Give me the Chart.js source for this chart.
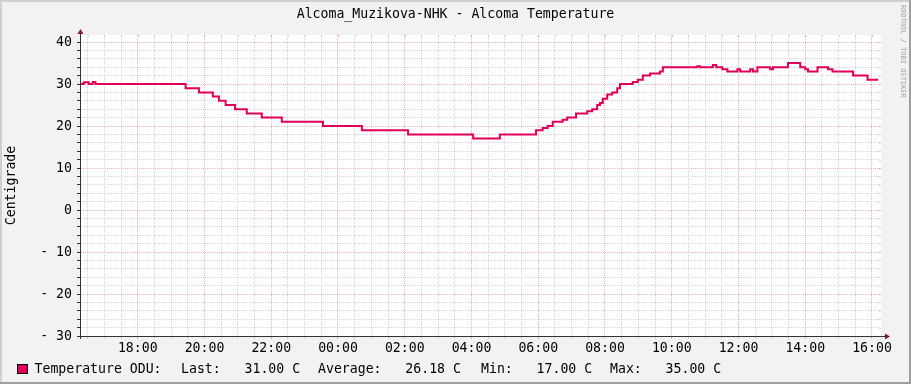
<!DOCTYPE html>
<html><head><meta charset="utf-8">
<script src="https://cdn.jsdelivr.net/npm/chart.js@4.4.0/dist/chart.umd.min.js"></script>
<style>
html,body{margin:0;padding:0;background:#F2F2F2;}
#wrap{position:relative;width:911px;height:384px;overflow:hidden;}
canvas{position:absolute;left:0;top:0;}
</style></head><body>
<div id="wrap"><canvas id="c" width="911" height="384"></canvas></div>
<script>
const TITLE = 'Alcoma_Muzikova-NHK - Alcoma Temperature';
const Y_AXIS_TITLE = 'Centigrade';
const WATERMARK = 'RRDTOOL / TOBI OETIKER';

// start time of each level (HH:MM), level holds until next time
const startTimes = ['16:17','16:23','16:32','16:39','16:44','19:26','19:50','20:15','20:26','20:38','20:55','21:16','21:43','22:19','23:33','00:43','02:06','04:03','04:51','05:56','06:08','06:17','06:26','06:44','06:52','07:08','07:28','07:37','07:46','07:51','07:56','08:04','08:13','08:22','08:27','08:50','08:59','09:08','09:21','09:39','09:44','10:46','10:51','11:14','11:20','11:31','11:40','11:58','12:03','12:21','12:26','12:34','12:57','13:02','13:29','13:51','14:00','14:05','14:22','14:41','14:49','15:26','15:52','16:11'];
const tempValues = [30,30.4,30,30.5,30,29,28,27,26,25,24,23,22,21,20,19,18,17,18,19,19.5,20,21,21.5,22,23,23.5,24,25,25.5,26.5,27.5,28,29,30,30.5,31,32,32.5,33,34,34.2,34,34.5,34,33.5,33,33.5,33,33.5,33,34,33.5,34,35,34,33.5,33,34,33.5,33,32,31,31];

const yTickValues = [-30,-20,-10,0,10,20,30,40];
const yTickLabels = ['- 30','- 20','- 10','0','10','20','30','40'];
const xTickHours = [18,20,22,24,26,28,30,32,34,36,38,40];
const xTickLabels = ['18:00','20:00','22:00','00:00','02:00','04:00','06:00','08:00','10:00','12:00','14:00','16:00'];
const legendLabel = 'Temperature ODU:';
const legendStats = ['Last:   31.00 C','Average:   26.18 C','Min:   17.00 C','Max:   35.00 C'];

const X_MIN = 16.27, X_MAX = 40.27;
const Y_MIN = -30, Y_MAX = 41.67;

const FONT = "'DejaVu Sans Mono', monospace";
const FS = 13.2;
const LINE_COLOR = '#E0005A';
const MAJOR = 'rgba(222,79,79,0.42)';
const MINOR = 'rgba(143,143,143,0.36)';
const AXIS = '#333333';
const ARROW = '#801F1F';

function toHours(s){
  const [h,m] = s.split(':').map(Number);
  let v = h + m/60;
  if (v < X_MIN) v += 24;
  return v;
}
const points = startTimes.map((t,i)=>({x: toHours(t), y: tempValues[i]}));

const isMajorX = v => Math.abs(v/2 - Math.round(v/2)) < 1e-6;
const isMajorY = v => Math.abs(v/10 - Math.round(v/10)) < 1e-6;

const decor = {
  id:'decor',
  beforeDraw(chart){
    const c = chart.ctx, a = chart.chartArea;
    c.save();
    c.fillStyle = '#F2F2F2'; c.fillRect(0,0,911,384);
    c.fillStyle = '#CFCFCF'; c.fillRect(0,0,911,2); c.fillRect(0,0,2,384);
    c.fillStyle = '#9E9E9E'; c.fillRect(909,0,2,384); c.fillRect(0,382,911,2);
    c.fillStyle = '#FFFFFF'; c.fillRect(a.left, a.top, a.right-a.left, a.bottom-a.top);
    c.restore();
  },
  beforeDatasetsDraw(chart){
    const c = chart.ctx, a = chart.chartArea, xs = chart.scales.x, ys = chart.scales.y;
    c.save(); c.lineWidth = 1;
    xs.ticks.forEach(t => {
      const px = Math.round(xs.getPixelForValue(t.value)) + 0.5;
      c.strokeStyle = isMajorX(t.value) ? MAJOR : MINOR;
      c.beginPath(); c.moveTo(px, a.top); c.lineTo(px, a.top+2); c.stroke();
    });
    ys.ticks.forEach(t => {
      const py = Math.round(ys.getPixelForValue(t.value)) + 0.5;
      c.strokeStyle = isMajorY(t.value) ? MAJOR : MINOR;
      c.beginPath(); c.moveTo(a.right-2, py); c.lineTo(a.right, py); c.stroke();
    });
    c.restore();
  },
  afterDatasetsDraw(chart){
    const c = chart.ctx, a = chart.chartArea;
    c.save();
    c.strokeStyle = AXIS; c.lineWidth = 1;
    c.beginPath();
    c.moveTo(a.left+0.5, a.bottom+3); c.lineTo(a.left+0.5, a.top-3);
    c.moveTo(a.left-3, a.bottom+0.5); c.lineTo(a.right+5, a.bottom+0.5);
    c.stroke();
    c.fillStyle = ARROW;
    c.beginPath();
    c.moveTo(a.left+0.5, a.top-6); c.lineTo(a.left-2.5, a.top-1); c.lineTo(a.left+3.5, a.top-1); c.closePath(); c.fill();
    c.beginPath();
    c.moveTo(a.right+9, a.bottom+0.5); c.lineTo(a.right+4, a.bottom-2.5); c.lineTo(a.right+4, a.bottom+3.5); c.closePath(); c.fill();
    c.restore();
  },
  afterDraw(chart){
    const c = chart.ctx, a = chart.chartArea;
    c.save();
    c.fillStyle = '#000';
    c.font = FS + 'px ' + FONT;
    c.textAlign = 'center'; c.textBaseline = 'middle';
    c.fillText(TITLE, 455.5, 14.5);
    c.save();
    c.translate(12, (a.top + a.bottom)/2);
    c.rotate(-Math.PI/2);
    c.fillText(Y_AXIS_TITLE, 0, 0);
    c.restore();
    c.fillStyle = LINE_COLOR;
    c.fillRect(17.5, 364.5, 10, 9);
    c.strokeStyle = '#000'; c.lineWidth = 1;
    c.strokeRect(17.5, 364.5, 10, 9);
    c.fillStyle = '#000';
    c.textAlign = 'left'; c.textBaseline = 'alphabetic';
    c.fillText(legendLabel, 34.5, 373);
    const xs = [181, 318, 481, 610];
    legendStats.forEach((s,i)=> c.fillText(s, xs[i], 373));
    c.save();
    c.translate(903, 5);
    c.rotate(Math.PI/2);
    c.fillStyle = '#A8A8A8';
    c.font = '7px ' + FONT;
    c.textAlign = 'left'; c.textBaseline = 'middle';
    c.fillText(WATERMARK, 0, 0);
    c.restore();
    c.restore();
  }
};

new Chart(document.getElementById('c'), {
  type:'line',
  data:{datasets:[{data: points, borderColor: LINE_COLOR, borderWidth: 2, stepped: true,
    pointRadius: 0, fill: false, tension: 0, borderCapStyle:'butt', borderJoinStyle:'miter'}]},
  options:{
    responsive:false, animation:false, devicePixelRatio:1,
    layout:{padding:{left:0, top:35, right:30, bottom:0}},
    plugins:{legend:{display:false}, title:{display:false}, tooltip:{enabled:false}},
    scales:{
      x:{type:'linear', min:X_MIN, max:X_MAX,
        afterBuildTicks: s => { const t=[]; for (let v=Math.ceil(X_MIN*2)/2; v<=X_MAX+1e-9; v+=0.5) t.push({value:v}); s.ticks=t; },
        afterFit: s => { s.height = 48; },
        grid:{color: c => isMajorX(c.tick.value) ? MAJOR : MINOR, lineWidth:1, drawTicks:true, tickLength:3,
          tickColor: c => isMajorX(c.tick.value) ? MAJOR : MINOR, tickBorderDash:[], borderDash:[1,1]},
        border:{display:true, color:AXIS, width:1, dash:[1,1]},
        ticks:{autoSkip:false, maxRotation:0, minRotation:0, padding:2, color:'#000',
          font:{family:FONT, size:FS},
          callback: v => { const i = xTickHours.findIndex(h => Math.abs(h - v) < 1e-6); return i >= 0 ? xTickLabels[i] : ''; }}
      },
      y:{type:'linear', min:Y_MIN, max:Y_MAX,
        afterBuildTicks: s => { const t=[]; for (let v=-30; v<=40; v+=2) t.push({value:v}); s.ticks=t; },
        afterFit: s => { s.width = 80; },
        grid:{color: c => isMajorY(c.tick.value) ? MAJOR : MINOR, lineWidth:1, drawTicks:true, tickLength:3,
          tickColor: AXIS, tickBorderDash:[], borderDash:[1,1]},
        border:{display:true, color:AXIS, width:1, dash:[1,1]},
        ticks:{autoSkip:false, padding:5, labelOffset:1, color:'#000', font:{family:FONT, size:FS},
          callback: v => { const i = yTickValues.findIndex(t => Math.abs(t - v) < 1e-6); return i >= 0 ? yTickLabels[i] : ''; }}
      }
    }
  },
  plugins:[decor]
});
</script>
</body></html>
